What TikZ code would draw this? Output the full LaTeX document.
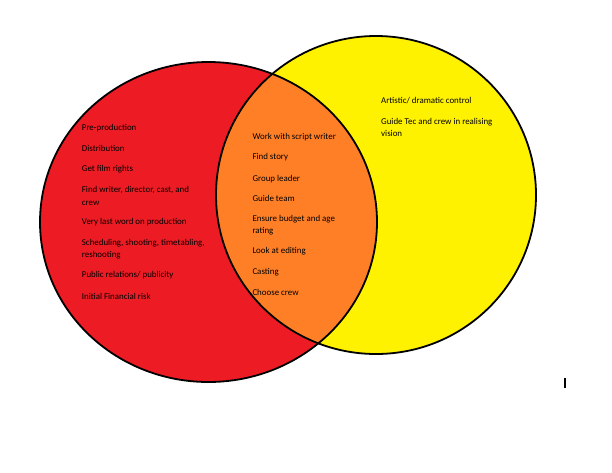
\documentclass[tikz,border=0pt]{standalone}
\usepackage{fontspec}
\setmainfont{Carlito}
\definecolor{vred}{HTML}{ED1C24}
\definecolor{vorange}{HTML}{FF7F27}
\definecolor{vyellow}{HTML}{FFF200}
\begin{document}
\begin{tikzpicture}[x=1pt,y=-1pt,
  lbl/.style={anchor=west,inner sep=0pt,yshift=-1.5pt,font=\fontsize{8.9}{12.5}\selectfont,text=black,align=left},
  outline/.style={draw=black,line width=1.8pt}]
\useasboundingbox (0,0) rectangle (612,472);
% circles
\fill[vred] (208.5,222) ellipse [x radius=168.5, y radius=160];
\fill[vyellow] (376,195) ellipse [x radius=160, y radius=159];
\begin{scope}
  \clip (208.5,222) ellipse [x radius=168.5, y radius=160];
  \fill[vorange] (376,195) ellipse [x radius=160, y radius=159];
\end{scope}
\draw[outline] (208.5,222) ellipse [x radius=168.5, y radius=160];
\draw[outline] (376,195) ellipse [x radius=160, y radius=159];
% left texts
\node[lbl] (l1) at (81.7,126.7) {Pre-production};
\node[lbl] (l2) at (81.7,146.7) {Distribution};
\node[lbl] (l3) at (81.7,168) {Get film rights};
\node[lbl] (l4) at (81.7,194.5) {Find writer, director, cast, and\\crew};
\node[lbl] (l5) at (81.7,220.7) {Very last word on production};
\node[lbl] (l6) at (81.7,247.8) {Scheduling, shooting, timetabling,\\reshooting};
\node[lbl] (l7) at (81.7,274) {Public relations/ publicity};
\node[lbl] (l8) at (81.7,295) {Initial Financial risk};
% middle texts
\node[lbl] (m1) at (252.3,135.7) {Work with script writer};
\node[lbl] (m2) at (252.3,156) {Find story};
\node[lbl] (m3) at (252.3,177.3) {Group leader};
\node[lbl] (m4) at (252.3,197.3) {Guide team};
\node[lbl] (m5) at (252.3,223.6) {Ensure budget and age\\rating};
\node[lbl] (m6) at (252.3,250) {Look at editing};
\node[lbl] (m7) at (252.3,271) {Casting};
\node[lbl] (m8) at (252.3,291) {Choose crew};
% right texts
\node[lbl] (r1) at (381,99.3) {Artistic/ dramatic control};
\node[lbl] (r2) at (381,125.8) {Guide Tec and crew in realising\\vision};
% small mark
\coordinate (t1) at (564.5,378);
\coordinate (t2) at (564.5,388);
\draw[line width=2pt] (t1) -- (t2);
\end{tikzpicture}
\end{document}
